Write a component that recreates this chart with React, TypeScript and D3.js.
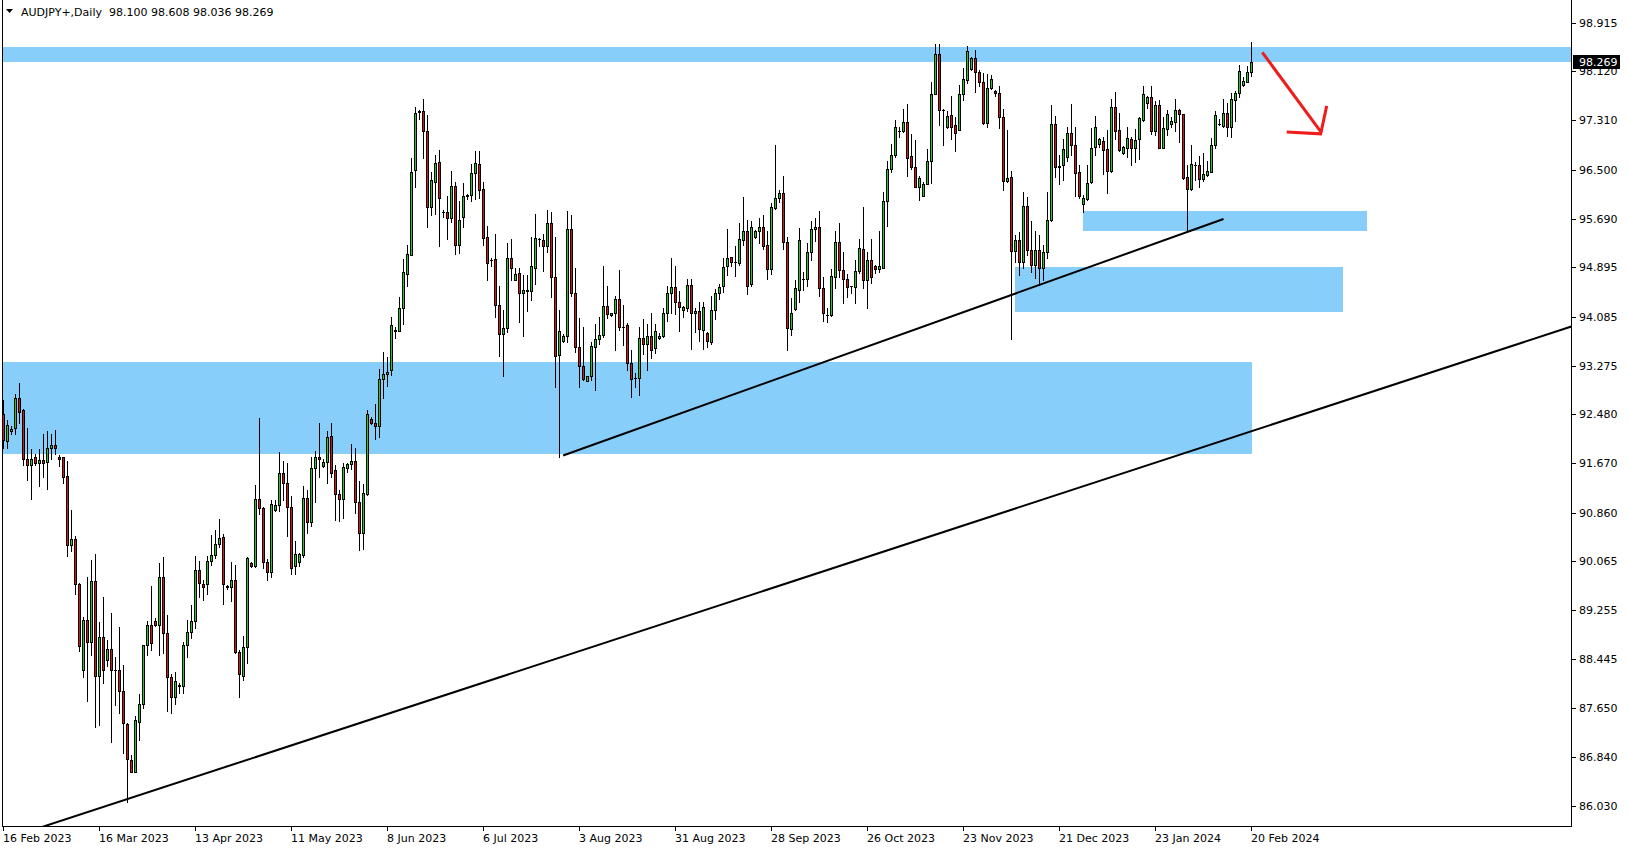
import React from 'react'
import * as d3 from 'd3'

// AUDJPY+ daily candles (bar 0 = 16 Feb 2023)
const symbolTitle = 'AUDJPY+,Daily'

const opens = [
  92.49, 92.04, 92.21, 92.25, 92.74, 92.54, 91.74, 91.64, 91.77, 91.67,
  91.73, 91.69, 91.92, 91.97, 91.77, 91.77, 91.46, 90.32, 90.42, 89.68,
  88.28, 89.09, 88.74, 89.74, 88.18, 88.81, 88.44, 88.62, 88.28, 88.27,
  87.93, 87.39, 86.79, 86.60, 87.42, 87.72, 88.68, 89.01, 89.07, 89.02,
  89.80, 88.88, 88.16, 87.82, 88.01, 88.01, 88.68, 88.90, 89.07, 89.91,
  89.68, 89.68, 90.06, 90.16, 90.34, 90.46, 89.65, 89.64, 89.75, 88.56,
  88.18, 88.65, 90.03, 89.98, 91.08, 90.93, 90.05, 89.88, 90.91, 90.98,
  91.51, 91.34, 90.95, 89.98, 90.05, 90.17, 91.10, 90.71, 91.60, 91.78,
  91.63, 91.69, 92.12, 91.56, 91.16, 91.08, 91.60, 91.66, 91.71, 91.04,
  90.52, 91.16, 92.40, 92.33, 92.29, 93.05, 93.14, 93.20, 93.85, 93.85,
  94.22, 94.79, 95.09, 96.49, 97.45, 97.46, 97.14, 95.89, 96.30, 96.62,
  95.81, 95.80, 95.70, 96.24, 95.27, 95.72, 96.06, 96.09, 96.44, 96.59,
  96.18, 95.39, 95.02, 95.03, 94.27, 93.79, 93.90, 95.04, 94.69, 94.80,
  94.48, 94.50, 94.50, 94.88, 95.36, 95.35, 95.25, 95.63, 94.73, 93.46,
  93.69, 93.76, 95.52, 94.48, 93.59, 93.28, 93.03, 93.10, 93.59, 93.71,
  93.78, 94.26, 94.11, 94.14, 94.37, 93.91, 93.95, 93.32, 93.08, 93.07,
  93.73, 93.64, 93.76, 93.56, 93.73, 93.76, 94.15, 94.48, 94.57, 94.32,
  94.20, 94.22, 94.60, 94.14, 94.17, 93.87, 93.82, 93.66, 94.20, 94.47,
  94.59, 94.91, 95.06, 94.99, 94.96, 95.35, 95.50, 94.62, 95.40, 95.49,
  95.55, 95.27, 94.87, 95.87, 96.03, 96.11, 95.31, 93.88, 94.21, 94.53,
  94.71, 94.71, 95.14, 95.52, 95.55, 94.55, 94.11, 94.11, 94.74, 95.31,
  94.85, 94.70, 94.58, 94.57, 94.83, 95.19, 94.68, 95.02, 94.91, 94.86,
  94.89, 95.98, 96.51, 96.74, 97.14, 97.14, 97.28, 96.73, 96.54, 96.22,
  96.06, 96.26, 96.64, 97.75, 98.41, 97.48, 97.21, 97.40, 97.23, 97.16,
  97.75, 97.98, 98.16, 98.34, 98.11, 97.94, 97.27, 97.84, 97.79, 97.77,
  97.36, 96.32, 96.38, 95.16, 95.34, 94.98, 95.90, 95.18, 94.93, 95.18,
  94.88, 95.15, 95.67, 97.25, 96.56, 96.57, 96.71, 97.11, 96.90, 96.46,
  95.93, 96.02, 96.29, 96.88, 96.92, 96.98, 96.84, 96.48, 97.53, 97.15,
  96.78, 96.85, 97.01, 96.85, 97.00, 97.32, 97.59, 97.70, 97.14, 97.56,
  96.86, 97.17, 97.26, 97.29, 97.48, 97.42, 96.38, 96.18, 96.57, 96.58,
  96.34, 96.42, 96.47, 96.90, 97.25, 97.22, 97.44, 97.21, 97.65, 97.76,
  97.89, 97.95, 98.100,
]

const highs = [
  92.71, 92.38, 92.28, 92.81, 92.99, 92.56, 92.26, 91.90, 91.83, 91.91,
  92.16, 92.20, 92.15, 92.22, 91.81, 91.78, 91.71, 90.90, 90.48, 89.70,
  89.15, 89.80, 90.08, 90.18, 89.06, 89.48, 88.77, 89.21, 88.49, 88.98,
  88.36, 87.40, 86.87, 87.52, 87.87, 88.69, 89.07, 89.65, 89.12, 90.03,
  90.13, 89.17, 88.21, 88.24, 88.06, 88.73, 89.10, 89.34, 90.15, 90.06,
  89.75, 90.14, 90.50, 90.57, 90.75, 90.51, 89.67, 90.05, 90.00, 88.60,
  88.83, 90.13, 90.04, 91.31, 92.41, 90.95, 90.10, 91.06, 91.06, 91.86,
  91.71, 91.67, 91.14, 90.39, 90.20, 91.30, 91.23, 91.77, 91.88, 92.33,
  91.74, 92.20, 92.33, 91.64, 91.24, 91.68, 91.68, 91.99, 91.92, 91.38,
  91.33, 92.54, 92.43, 92.65, 93.23, 93.50, 93.42, 94.07, 93.91, 94.41,
  95.03, 95.26, 96.70, 97.53, 97.48, 97.66, 97.40, 96.46, 96.74, 96.82,
  95.84, 96.07, 96.48, 96.29, 95.99, 96.28, 96.10, 96.59, 96.81, 96.81,
  96.30, 95.58, 95.05, 95.45, 94.59, 94.19, 95.29, 95.36, 94.88, 94.88,
  94.77, 94.77, 95.40, 95.77, 95.37, 95.45, 95.83, 95.80, 95.39, 94.19,
  93.79, 95.82, 95.76, 94.88, 94.06, 93.91, 93.11, 93.67, 93.96, 94.08,
  94.92, 94.58, 94.15, 94.43, 94.85, 94.28, 93.98, 93.54, 93.15, 93.91,
  94.05, 93.96, 94.15, 93.97, 93.81, 94.23, 94.59, 95.05, 94.92, 94.50,
  94.26, 94.70, 94.71, 94.23, 94.32, 94.32, 93.83, 94.43, 94.54, 94.62,
  95.04, 95.52, 95.07, 95.25, 95.63, 96.05, 95.67, 95.66, 95.51, 95.70,
  95.75, 95.49, 95.95, 96.91, 96.17, 96.40, 95.39, 94.39, 94.69, 95.54,
  94.82, 95.29, 95.65, 95.71, 95.82, 94.74, 94.22, 94.87, 95.49, 95.63,
  95.15, 94.78, 94.59, 95.02, 95.36, 95.88, 95.15, 95.36, 94.93, 95.50,
  96.14, 96.65, 96.92, 97.31, 97.21, 97.50, 97.58, 97.09, 96.99, 96.40,
  96.30, 96.84, 97.94, 98.57, 98.56, 97.50, 97.47, 97.71, 97.36, 97.89,
  98.18, 98.53, 98.35, 98.47, 98.14, 98.09, 98.08, 98.05, 97.81, 97.87,
  97.50, 97.15, 96.48, 95.43, 95.48, 96.13, 96.05, 95.66, 95.49, 95.42,
  95.26, 96.13, 97.56, 97.38, 96.74, 97.00, 97.21, 97.58, 97.21, 96.58,
  96.08, 96.58, 97.18, 97.38, 97.03, 97.04, 97.15, 97.66, 97.78, 97.43,
  96.89, 97.21, 97.04, 97.17, 97.36, 97.88, 97.72, 97.88, 97.63, 97.64,
  97.36, 97.48, 97.36, 97.67, 97.50, 97.42, 96.58, 96.91, 96.62, 96.73,
  96.78, 96.64, 97.03, 97.47, 97.33, 97.66, 97.59, 97.77, 97.80, 98.23,
  98.03, 98.21, 98.608,
]

const lows = [
  91.93, 91.92, 92.15, 92.16, 92.34, 91.65, 91.39, 91.08, 91.64, 91.30,
  91.45, 91.25, 91.74, 91.82, 91.63, 91.34, 90.14, 90.23, 89.52, 88.58,
  88.15, 87.77, 88.52, 87.33, 87.36, 88.05, 88.33, 87.09, 87.69, 87.57,
  86.90, 86.10, 86.59, 86.59, 87.12, 87.65, 88.52, 88.60, 89.00, 88.52,
  88.55, 87.60, 87.56, 87.72, 87.90, 87.89, 88.49, 88.79, 88.96, 89.47,
  89.42, 89.53, 90.00, 90.12, 90.29, 89.36, 89.61, 89.40, 88.55, 87.83,
  88.10, 88.39, 89.96, 89.96, 90.84, 89.95, 89.75, 89.80, 90.89, 90.89,
  91.07, 90.48, 89.85, 89.85, 89.98, 90.13, 90.53, 90.64, 91.04, 91.44,
  91.61, 91.35, 91.44, 90.74, 90.73, 90.78, 91.53, 91.57, 90.86, 90.24,
  90.27, 91.15, 92.32, 92.07, 92.11, 92.75, 92.95, 93.13, 93.74, 93.85,
  93.96, 94.58, 95.09, 96.21, 97.33, 96.70, 95.55, 95.76, 95.77, 95.24,
  95.72, 95.36, 95.64, 95.12, 95.13, 95.56, 96.02, 95.98, 96.02, 96.03,
  95.27, 94.68, 94.92, 94.08, 93.44, 93.10, 93.83, 94.68, 94.68, 94.00,
  93.76, 94.18, 94.36, 94.62, 95.25, 94.84, 95.15, 94.40, 92.93, 91.78,
  93.66, 93.67, 94.42, 93.51, 92.93, 93.04, 93.02, 93.04, 92.88, 93.63,
  93.75, 94.06, 94.10, 93.54, 93.86, 93.61, 93.20, 92.77, 92.93, 92.80,
  93.47, 93.20, 93.41, 93.48, 93.72, 93.75, 94.01, 94.15, 94.12, 93.84,
  94.08, 94.17, 93.55, 93.83, 93.68, 93.55, 93.58, 93.63, 94.05, 94.37,
  94.49, 94.77, 94.92, 94.75, 94.94, 95.26, 94.46, 94.59, 95.37, 95.29,
  95.19, 94.70, 94.79, 95.85, 95.97, 95.20, 93.54, 93.78, 94.19, 94.33,
  94.52, 94.59, 95.02, 95.33, 94.43, 94.02, 94.00, 94.09, 94.55, 94.74,
  94.30, 94.40, 94.47, 94.30, 94.80, 94.55, 94.22, 94.63, 94.80, 94.81,
  94.88, 95.57, 96.47, 96.71, 97.04, 97.12, 96.39, 96.52, 96.21, 96.01,
  96.06, 96.26, 96.28, 97.74, 97.23, 96.91, 97.19, 97.00, 96.80, 97.15,
  97.64, 97.93, 98.14, 97.78, 97.87, 97.26, 97.21, 97.82, 97.72, 97.18,
  96.17, 96.30, 93.72, 94.98, 94.77, 94.88, 95.10, 94.82, 94.72, 94.60,
  94.69, 95.05, 95.66, 96.38, 96.27, 96.33, 96.65, 96.74, 96.07, 96.04,
  95.81, 96.00, 96.28, 96.74, 96.88, 96.43, 96.11, 96.47, 97.01, 96.80,
  96.76, 96.71, 96.57, 96.63, 96.67, 97.30, 97.52, 97.09, 97.07, 96.85,
  96.85, 97.07, 97.21, 97.14, 96.96, 96.35, 95.50, 96.16, 96.33, 96.21,
  96.32, 96.40, 96.47, 96.85, 97.23, 97.20, 97.06, 97.04, 97.30, 97.70,
  97.88, 97.94, 98.036,
]

const closes = [
  92.05, 92.30, 92.24, 92.74, 92.51, 91.75, 91.65, 91.74, 91.67, 91.73,
  91.68, 91.92, 91.97, 91.93, 91.75, 91.44, 90.32, 90.42, 89.68, 88.66,
  89.09, 88.74, 89.74, 88.18, 88.81, 88.27, 88.62, 88.28, 88.27, 87.92,
  87.40, 86.80, 86.60, 87.45, 87.72, 88.68, 89.01, 88.71, 89.01, 89.80,
  88.88, 88.16, 87.82, 88.09, 88.02, 88.68, 88.90, 89.07, 89.91, 89.70,
  89.63, 90.06, 90.16, 90.34, 90.44, 89.68, 89.64, 89.75, 88.56, 88.20,
  88.65, 90.12, 89.98, 91.08, 90.93, 90.05, 89.88, 91.00, 90.98, 91.51,
  91.35, 90.96, 89.95, 90.18, 90.18, 91.10, 90.71, 91.59, 91.77, 91.74,
  91.69, 92.10, 91.52, 91.16, 91.09, 91.61, 91.66, 91.71, 91.04, 90.52,
  91.18, 92.49, 92.34, 92.29, 93.05, 93.14, 93.18, 93.94, 93.86, 94.22,
  94.81, 95.11, 96.47, 97.43, 97.46, 97.14, 95.89, 96.33, 96.61, 96.03,
  95.81, 95.70, 96.24, 95.27, 95.68, 96.06, 96.09, 96.44, 96.61, 96.16,
  95.38, 94.97, 95.02, 94.28, 93.79, 93.89, 95.04, 94.89, 94.78, 94.48,
  94.52, 94.52, 94.91, 95.37, 95.36, 95.25, 95.63, 94.73, 93.44, 93.84,
  93.76, 95.52, 94.48, 93.59, 93.28, 93.06, 93.10, 93.60, 93.72, 93.78,
  94.26, 94.12, 94.14, 94.37, 93.92, 93.91, 93.32, 93.05, 93.08, 93.73,
  93.64, 93.76, 93.53, 93.84, 93.76, 94.15, 94.48, 94.57, 94.32, 94.24,
  94.24, 94.60, 94.14, 94.17, 93.88, 94.24, 93.68, 94.20, 94.47, 94.57,
  94.90, 95.05, 94.99, 94.99, 95.36, 95.50, 94.59, 95.55, 95.49, 95.55,
  95.25, 94.87, 95.88, 96.03, 96.11, 95.31, 93.89, 94.14, 94.55, 95.35,
  94.70, 95.14, 95.52, 95.55, 94.55, 94.15, 94.11, 94.75, 95.31, 94.85,
  94.71, 94.57, 94.58, 94.83, 95.22, 94.68, 95.02, 94.74, 94.86, 94.91,
  95.98, 96.51, 96.74, 97.21, 97.14, 97.28, 96.70, 96.54, 96.22, 96.36,
  96.26, 96.64, 97.75, 98.40, 97.48, 97.48, 97.39, 97.21, 97.10, 97.74,
  97.99, 98.46, 98.34, 98.11, 97.95, 97.27, 97.84, 97.99, 97.77, 97.36,
  96.32, 96.36, 95.16, 95.34, 94.98, 95.90, 95.18, 94.93, 95.18, 94.88,
  95.15, 95.67, 97.25, 96.54, 96.55, 96.84, 97.11, 96.90, 96.44, 96.06,
  96.03, 96.28, 96.85, 97.20, 97.00, 96.83, 96.48, 97.53, 97.14, 96.82,
  96.87, 97.02, 96.85, 96.99, 97.35, 97.74, 97.70, 97.14, 97.56, 96.86,
  97.19, 97.41, 97.30, 97.48, 97.41, 96.37, 96.18, 96.60, 96.57, 96.34,
  96.43, 96.48, 96.91, 97.40, 97.25, 97.44, 97.20, 97.66, 97.76, 98.12,
  97.96, 98.10, 98.269,
]

// time axis: a label every 24 bars
const dateBars = [0, 24, 48, 72, 96, 120, 144, 168, 192, 216, 240, 264, 288, 312]
const dateLabels = [
  '16 Feb 2023', '16 Mar 2023', '13 Apr 2023', '11 May 2023', '8 Jun 2023',
  '6 Jul 2023', '3 Aug 2023', '31 Aug 2023', '28 Sep 2023', '26 Oct 2023',
  '23 Nov 2023', '21 Dec 2023', '23 Jan 2024', '20 Feb 2024',
]

const priceTicks = [
  98.915, 98.12, 97.31, 96.5, 95.69, 94.895, 94.085, 93.275, 92.48,
  91.67, 90.86, 90.065, 89.255, 88.445, 87.65, 86.84, 86.03,
]

// drawn objects, in (bar, price)
const zoneBars = [[-20, 420], [-20, 312], [252.9, 334.9], [269.8, 340.9]]
const zonePrices = [[98.52, 98.28], [93.34, 91.82], [94.9, 94.165], [95.82, 95.5]]

const trendLong = [[31, 86.15], [312, 92.2]]
const trendShort = [[139.9, 91.8], [305, 95.69]]
const arrowShaft = [[314.7, 98.43], [329.3, 97.125]]
const arrowHead = [[320.8, 97.12], [329.3, 97.09], [330.8, 97.55]]

const W = 1629
const H = 850
const left = 2
const right = 1571
const bottom = 826
const bull = '#1fcc1f'
const bear = '#d71414'
const zoneFill = '#87cefa'
const font = '"DejaVu Sans", Verdana, sans-serif'

const fmt = d3.format('.3f')

export default function App() {
  const x = d3.scaleLinear().domain([0, opens.length - 1]).range([3.5, 1251.5])
  const y = d3.scaleLinear().domain([86.03, 98.915]).range([806.3, 22.9])

  // extend a trend line across the whole plot
  const extend = (pts: number[][]) => {
    const [[b0, p0], [b1, p1]] = pts
    const k = (p1 - p0) / (b1 - b0)
    const a = -40
    const b = 420
    return [[a, p0 + k * (a - b0)], [b, p0 + k * (b - b0)]]
  }
  const line = d3.line<number[]>().x(d => x(d[0])).y(d => y(d[1]))

  const last = closes[closes.length - 1]
  const lastY = Math.round(y(last))
  const header = `${fmt(opens[opens.length - 1])} ${fmt(highs[highs.length - 1])} ${fmt(lows[lows.length - 1])} ${fmt(last)}`

  return (
    <div>
      <style>{'body{margin:0;background:#fff}'}</style>
      <svg width={W} height={H} style={{ display: 'block', background: '#fff' }}>
        <defs>
          <clipPath id="plot">
            <rect x={left + 1} y={0} width={right - left - 1} height={bottom} />
          </clipPath>
        </defs>

        <g clipPath="url(#plot)" shapeRendering="crispEdges">
          {zoneBars.map((zb, i) => (
            <rect
              key={i}
              x={x(zb[0])}
              y={y(zonePrices[i][0])}
              width={x(zb[1]) - x(zb[0])}
              height={y(zonePrices[i][1]) - y(zonePrices[i][0])}
              fill={zoneFill}
            />
          ))}
        </g>

        <g shapeRendering="crispEdges">
          {opens.map((o, i) => {
            const c = closes[i]
            const col = Math.floor(x(i))
            const yH = Math.round(y(highs[i]))
            const yL = Math.round(y(lows[i]))
            const yT = Math.round(y(Math.max(o, c)))
            const yB = Math.round(y(Math.min(o, c)))
            return (
              <g key={i}>
                <rect x={col} y={yH} width={1} height={yL - yH + 1} fill="#000" />
                <rect x={col - 1} y={yT} width={3} height={yB - yT + 1} fill="#000" />
                {yB - yT > 1 && (
                  <rect x={col} y={yT + 1} width={1} height={yB - yT - 1} fill={c > o ? bull : bear} />
                )}
              </g>
            )
          })}
        </g>

        <g clipPath="url(#plot)" fill="none">
          <path d={line(extend(trendLong)) || ''} stroke="#000" strokeWidth={2} />
          <path d={line(trendShort) || ''} stroke="#000" strokeWidth={2} />
          <path d={line(arrowShaft) || ''} stroke="#f01c1c" strokeWidth={3} />
          <path d={line(arrowHead) || ''} stroke="#f01c1c" strokeWidth={3} />
        </g>

        {/* frame */}
        <g shapeRendering="crispEdges" fill="#000">
          <rect x={left} y={0} width={1} height={bottom + 1} />
          <rect x={right} y={0} width={1} height={bottom + 1} />
          <rect x={left} y={bottom} width={right - left + 1} height={1} />
        </g>

        {/* price axis */}
        <g fontFamily={font} fontSize={11} fill="#000">
          {priceTicks.map(t => {
            const ty = Math.round(y(t))
            return (
              <g key={t}>
                <rect x={right + 1} y={ty} width={4} height={1} shapeRendering="crispEdges" />
                <text x={1579} y={ty + 4}>{fmt(t)}</text>
              </g>
            )
          })}
          <rect x={right + 2} y={lastY - 7} width={47} height={14} fill="#000" shapeRendering="crispEdges" />
          <text x={1579} y={lastY + 4} fill="#fff">{fmt(last)}</text>
        </g>

        {/* time axis */}
        <g fontFamily={font} fontSize={11} fill="#000">
          {dateBars.map((b, i) => {
            const tx = Math.floor(x(b))
            return (
              <g key={b}>
                <rect x={tx} y={bottom + 1} width={1} height={4} shapeRendering="crispEdges" />
                <text x={tx} y={842}>{dateLabels[i]}</text>
              </g>
            )
          })}
        </g>

        {/* header */}
        <path d="M6,9 L13,9 L9.5,13 Z" fill="#000" />
        <text x={21} y={16} fontFamily={font} fontSize={11} fill="#000">
          {symbolTitle}
          <tspan dx={7}>{header}</tspan>
        </text>
      </svg>
    </div>
  )
}
